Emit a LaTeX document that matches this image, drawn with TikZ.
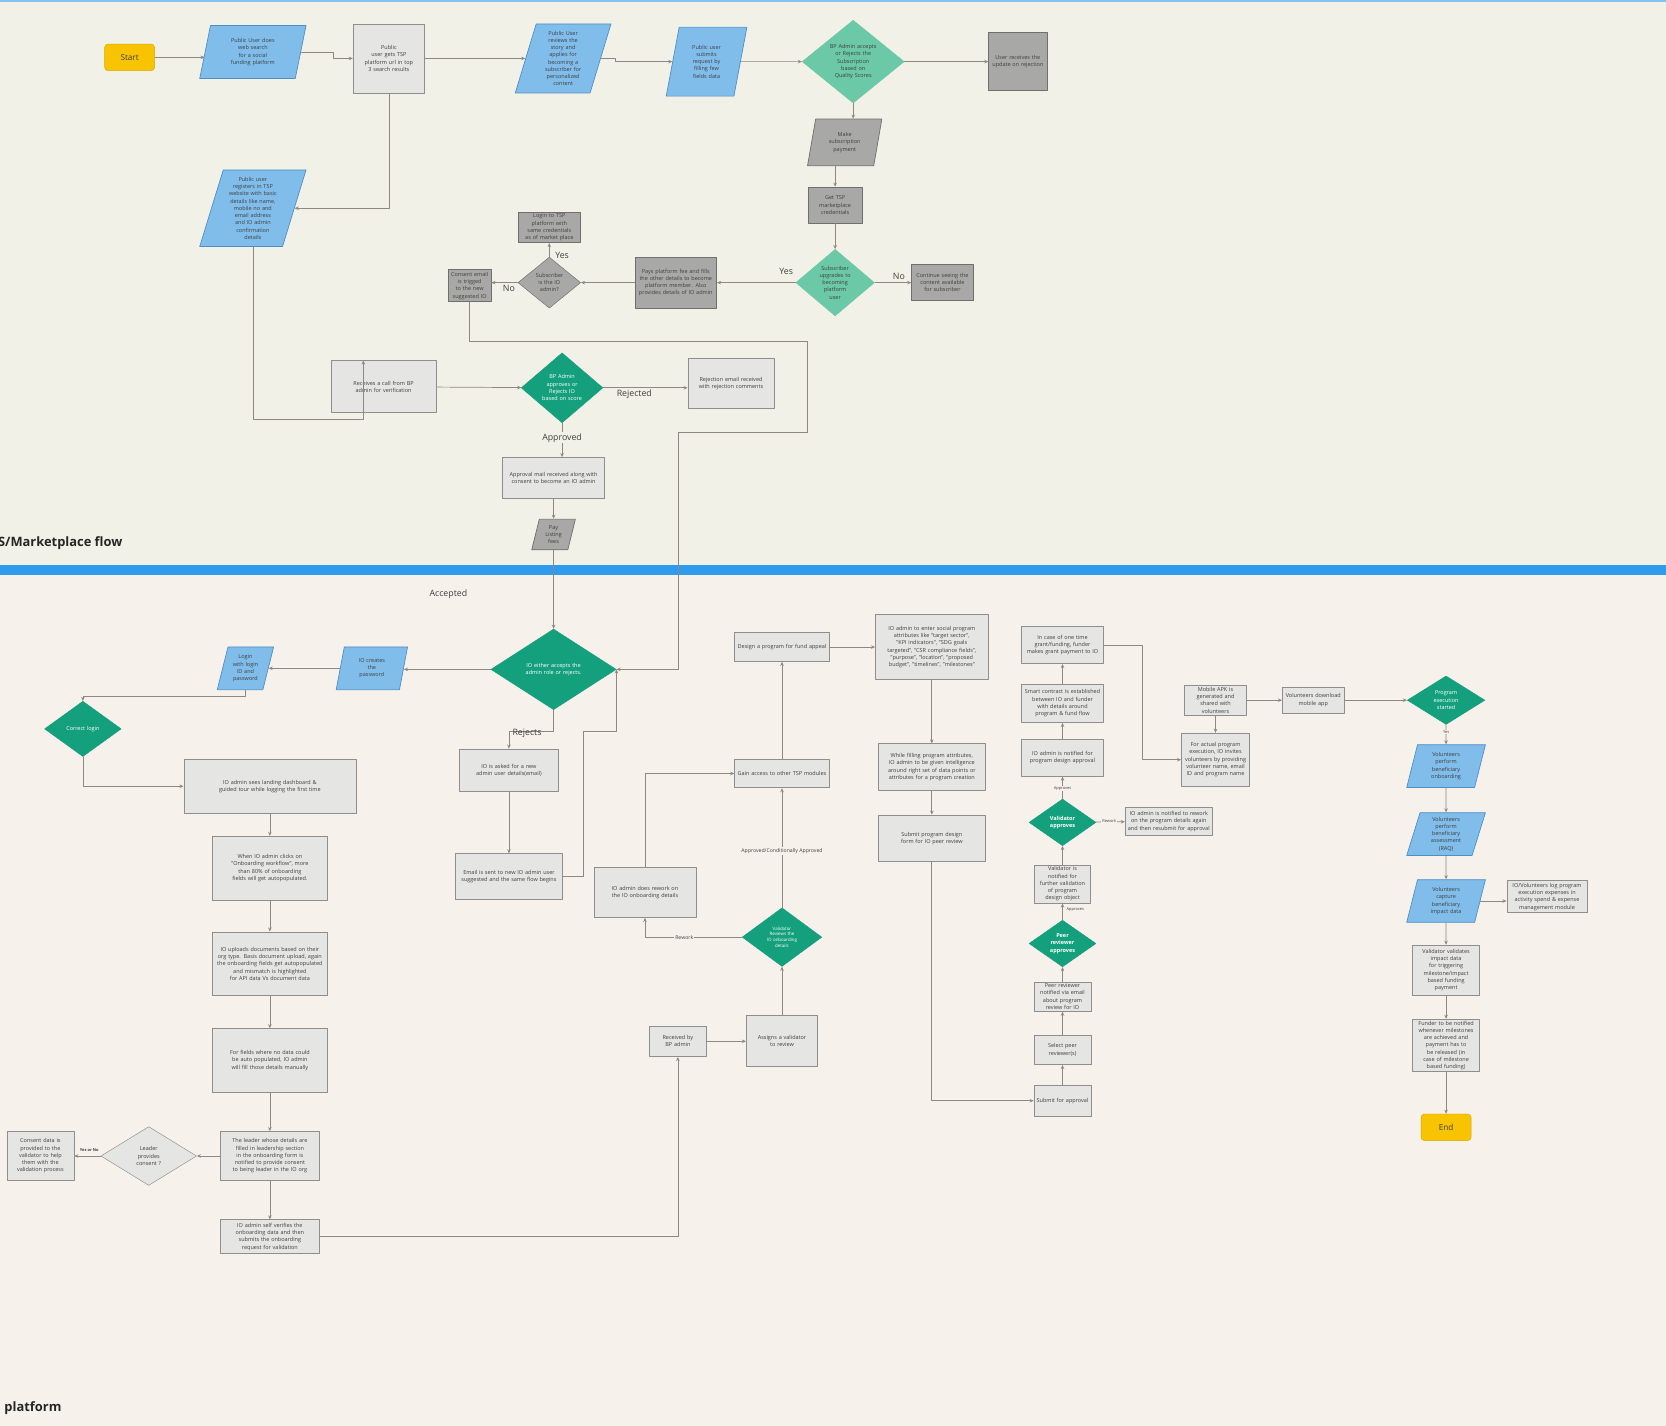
\documentclass[tikz,border=0pt]{standalone}
\usepackage{fontspec}
\setmainfont{Open Sans}
\usepackage{xcolor}
\usepackage{tikz}
\usetikzlibrary{arrows.meta,shapes.geometric}

\definecolor{topbg}{HTML}{F2F1E7}
\definecolor{botbg}{HTML}{F7F1EC}
\definecolor{bandblue}{HTML}{2F9BEC}
\definecolor{parablue}{HTML}{80BDEB}
\definecolor{paraedge}{HTML}{4F8FC6}
\definecolor{lightbox}{HTML}{E5E5E4}
\definecolor{boxedge}{HTML}{8E8E8E}
\definecolor{darkbox}{HTML}{A8A8A7}
\definecolor{darkedge}{HTML}{6F6F6F}
\definecolor{mintteal}{HTML}{6CC9A8}
\definecolor{deepteal}{HTML}{15A07D}
\definecolor{signyellow}{HTML}{F8C300}
\definecolor{yellowedge}{HTML}{D9A900}
\definecolor{lineclr}{HTML}{8D8882}
\definecolor{txtclr}{HTML}{3F3F3F}

\newcommand{\boxfont}{\fontsize{4.7}{6.2}\selectfont\hyphenpenalty=10000\exhyphenpenalty=10000\relax}
\newcommand{\tinyboxfont}{\fontsize{3.8}{4.8}\selectfont\hyphenpenalty=10000\relax}
\newcommand{\termfont}{\fontsize{7}{8}\selectfont}
\newcommand{\lblfont}{\fontsize{7.5}{9}\selectfont}
\newcommand{\smallfont}{\fontsize{4.4}{5.4}\selectfont}
\newcommand{\microfont}{\fontsize{3.4}{4}\selectfont}
\newcommand{\headfont}{\fontsize{11}{13}\selectfont\bfseries}

\begin{document}
\begin{tikzpicture}[x=0.031875cm,y=-0.031875cm,>=Stealth,line join=round,
  boxsize/.style 2 args={minimum width=#1cm,minimum height=#2cm},
  tw/.style={text width=#1cm},
  lbox/.style={rectangle,draw=boxedge,fill=lightbox,text=txtclr,font=\boxfont,align=center,inner sep=1.5pt,line width=0.6pt},
  gbox/.style={lbox,fill=darkbox,draw=darkedge},
  para/.style={trapezium,trapezium left angle=70,trapezium right angle=110,trapezium stretches body,draw=paraedge,fill=parablue,text=txtclr,font=\boxfont,align=center,inner sep=1pt,line width=0.6pt},
  gpara/.style={para,fill=darkbox,draw=darkedge},
  dec/.style={diamond,fill=deepteal,draw=deepteal,text=white,font=\boxfont,align=center,inner sep=0pt},
  mdec/.style={dec,fill=mintteal,draw=mintteal,text=txtclr},
  gdec/.style={dec,fill=darkbox,draw=darkedge,text=txtclr},
  ldec/.style={dec,fill=lightbox,draw=boxedge,text=txtclr},
  term/.style={rectangle,rounded corners=3pt,fill=signyellow,draw=yellowedge,font=\termfont,text=txtclr,minimum width=1.5cm,minimum height=0.8cm},
  flow/.style={draw=lineclr,line width=0.6pt,-{Stealth[length=3.5pt,width=3pt]}},
  lbl/.style={font=\lblfont,text=txtclr,inner sep=1pt},
  slbl/.style={font=\smallfont,text=txtclr,inner sep=1pt},
  mlbl/.style={font=\microfont,text=txtclr,inner sep=0.8pt}]
  \fill[topbg] (0,0) rectangle (1568,532);
  \fill[bandblue] (0,532) rectangle (1568,541);
  \fill[botbg] (0,541) rectangle (1568,1342);
  \fill[bandblue!60] (0,0) rectangle (1568,1.5);
  \useasboundingbox (0,0) rectangle (1568,1342);

  \node[term] (start) at (122,54) {Start};
  \node[para,boxsize={3.19}{1.59},tw=1.45] (websearch) at (238,49) {Public User does web search for a social funding platform};
  \node[lbox,boxsize={2.14}{2.07},tw=1.9] (tspurl) at (366,55) {Public\\ user gets TSP platform url in top 3 search results};
  \node[para,boxsize={2.87}{2.07},tw=1.25] (applysub) at (530,55) {Public User reviews the story and applies for becoming a subscriber for personalized content};
  \node[para,boxsize={2.42}{2.07},tw=1.05] (submitreq) at (665,58) {Public user submits request by filling few fields data};
  \node[mdec,boxsize={3.06}{2.23},tw=1.45] (bpsub) at (803,58) {BP Admin accepts or Rejects the Subscription based on Quality Scores};
  \node[gbox,boxsize={1.75}{1.75},tw=1.6] (rejupd) at (958,58) {User receives the update on rejection};
  \node[gpara,boxsize={2.23}{1.40},tw=1.0] (subpay) at (795,134) {Make subscription payment};
  \node[gbox,boxsize={1.63}{1.08},tw=1.1] (getcred) at (786,193) {Get TSP marketplace credentials};
  \node[mdec,boxsize={2.36}{1.82},tw=1.0] (upgrade) at (786,266) {Subscriber upgrades to becoming platform user};
  \node[gbox,boxsize={1.85}{1.08},tw=1.7] (contsee) at (887,266) {Continue seeing the content available for subscriber};
  \node[gbox,boxsize={2.45}{1.53},tw=2.3] (payfee) at (636,266) {Pays platform fee and fills the other details to become platform member. Also provides details of IO admin};
  \node[gdec,boxsize={1.88}{1.53},tw=0.8] (isadmin) at (517,266) {Subscriber is the IO admin?};
  \node[gbox,boxsize={1.85}{0.89},tw=1.7] (logintsp) at (517,214) {Login to TSP platform with same credentials as of market place};
  \node[gbox,boxsize={1.28}{0.96},tw=1.15] (consentmail) at (442,269) {Consent email is trigged to the new suggested IO};
  \node[para,boxsize={3.19}{2.30},tw=1.5] (register) at (238,196) {Public user registers in TSP website with basic details like name, mobile no and email address and IO admin confirmation details};
  \node[lbox,boxsize={3.16}{1.56},tw=2.9] (bpcall) at (361,364) {Receives a call from BP admin for verification};
  \node[dec,boxsize={2.45}{2.10},tw=1.3] (bpscore) at (529,365) {BP Admin approves or Rejects IO based on score};
  \node[lbox,boxsize={2.58}{1.50},tw=2.4] (rejmail) at (688,361) {Rejection email received with rejection comments};
  \node[lbox,boxsize={3.06}{1.24},tw=2.8] (apprmail) at (521,450) {Approval mail received along with consent to become an IO admin};
  \node[gpara,boxsize={1.31}{0.92},tw=0.6] (listfee) at (521,503) {Pay Listing fees};
  \coordinate (regbend) at (342,395);
  \coordinate (mailbend1) at (760,321);
  \coordinate (mailbend2) at (638,407);

  \node[dec,boxsize={3.76}{2.42},tw=2.0] (accrole) at (521,630) {IO either accepts the admin role or rejects.};
  \node[para,boxsize={2.14}{1.28},tw=1.0] (createpw) at (350,629) {IO creates the password};
  \node[para,boxsize={1.69}{1.28},tw=0.85] (loginid) at (231,629) {Login with login ID and password};
  \node[dec,boxsize={2.30}{1.66},tw=1.2] (corrlogin) at (78,686) {Correct login};
  \node[lbox,boxsize={5.16}{1.63},tw=4.9] (landing) at (254,740) {IO admin sees landing dashboard \& guided tour while logging the first time};
  \node[lbox,boxsize={2.96}{1.28},tw=2.6] (newadmin) at (479,725) {IO is asked for a new admin user details(email)};
  \node[lbox,boxsize={3.22}{1.37},tw=3.0] (mailnew) at (479,825) {Email is sent to new IO admin user suggested and the same flow begins};
  \node[lbox,boxsize={3.44}{1.91},tw=3.2] (autopop) at (254,817) {When IO admin clicks on "Onboarding workflow", more than 80\% of onboarding fields will get autopopulated.};
  \node[lbox,boxsize={3.44}{1.91},tw=3.2] (upload) at (254,907) {IO uploads documents based on their org type. Basis document upload, again the onboarding fields get autopopulated and mismatch is highlighted for API data Vs document data};
  \node[lbox,boxsize={3.44}{1.91},tw=3.2] (manual) at (254,998) {For fields where no data could be auto populated, IO admin will fill those details manually};
  \node[lbox,boxsize={2.96}{1.47},tw=2.6] (leader) at (254,1088) {The leader whose details are filled in leadership section in the onboarding form is notified to provide consent to being leader in the IO org};
  \node[ldec,boxsize={2.87}{1.50},tw=1.2] (leadcons) at (140,1088) {Leader provides consent ?};
  \node[lbox,boxsize={2.01}{1.47},tw=1.8] (consdata) at (38,1088) {Consent data is provided to the validator to help them with the validation process};
  \node[lbox,boxsize={2.96}{1.02},tw=2.7] (selfver) at (254,1164) {IO admin self verifies the onboarding data and then submits the onboarding request for validation};
  \node[lbox,boxsize={1.69}{0.92},tw=1.3] (recvbp) at (638,980) {Received by BP admin};
  \node[lbox,boxsize={2.14}{1.53},tw=1.8] (assignval) at (736,980) {Assigns a validator to review};
  \node[dec,boxsize={2.39}{1.50},tw=1.15,font=\tinyboxfont] (valrev) at (736,882) {Validator Reviews the IO onboarding details};
  \node[lbox,boxsize={3.06}{1.50},tw=2.6] (rework) at (607,840) {IO admin does rework on the IO onboarding details};
  \node[lbox,boxsize={2.84}{0.86},tw=2.7] (gainacc) at (736,728) {Gain access to other TSP modules};
  \node[lbox,boxsize={2.84}{0.86},tw=2.7] (design) at (736,609) {Design a program for fund appeal};
  \node[lbox,boxsize={3.38}{1.94},tw=3.2] (attrs) at (877,609) {IO admin to enter social program attributes like "target sector", "KPI indicators", "SDG goals targeted", "CSR compliance fields", "purpose", "location", "proposed budget", "timelines", "milestones"};
  \node[lbox,boxsize={3.22}{1.40},tw=3.0] (intel) at (877,722) {While filling program attributes, IO admin to be given intelligence around right set of data points or attributes for a program creation};
  \node[lbox,boxsize={3.22}{1.40},tw=2.6] (submitpeer) at (877,789) {Submit program design form for IO peer review};
  \node[lbox,boxsize={1.69}{0.92},tw=1.6] (submitappr) at (1000,1036) {Submit for approval};
  \node[lbox,boxsize={1.69}{0.89},tw=1.6] (selpeer) at (1000,988) {Select peer reviewer(s)};
  \node[lbox,boxsize={1.69}{0.83},tw=1.6] (peernote) at (1000,938) {Peer reviewer notified via email about program review for IO};
  \node[dec,boxsize={2.01}{1.40},tw=0.8,font=\boxfont\bfseries] (peerok) at (1000,888) {Peer reviewer approves};
  \node[lbox,boxsize={1.66}{0.89},tw=1.5] (valnote) at (1000,832) {Validator is notified for further validation of program design object};
  \node[dec,boxsize={2.01}{1.40},tw=0.8,font=\boxfont\bfseries] (valok) at (1000,774) {Validator approves};
  \node[lbox,boxsize={2.61}{0.83},tw=2.5] (reworknote) at (1100,773) {IO admin is notified to rework on the program details again and then resubmit for approval};
  \node[lbox,boxsize={2.45}{1.12},tw=2.3] (apprnote) at (1000,713) {IO admin is notified for program design approval};
  \node[lbox,boxsize={2.45}{1.15},tw=2.3] (smartc) at (1000,662) {Smart contract is established between IO and funder with details around program \& fund flow};
  \node[lbox,boxsize={2.45}{1.12},tw=2.2] (grantpay) at (1000,607) {In case of one time grant/funding, funder makes grant payment to IO};
  \node[lbox,boxsize={2.04}{1.59},tw=1.9] (invitevol) at (1144,715) {For actual program execution, IO invites volunteers by providing volunteer name, email ID and program name};
  \node[lbox,boxsize={1.85}{0.80},tw=1.7] (apk) at (1144,659) {Mobile APK is generated and shared with volunteers};
  \node[lbox,boxsize={1.85}{0.80},tw=1.7] (download) at (1236,659) {Volunteers download mobile app};
  \node[dec,boxsize={2.33}{1.28},tw=0.9] (execstart) at (1361,659) {Program execution started};
  \node[para,boxsize={2.36}{1.28},tw=1.0] (onboardben) at (1361,721) {Volunteers perform beneficiary onboarding};
  \node[para,boxsize={2.36}{1.28},tw=1.0] (assessben) at (1361,785) {Volunteers perform beneficiary assessment (RAQ)};
  \node[para,boxsize={2.36}{1.28},tw=1.0] (capture) at (1361,848) {Volunteers capture beneficiary impact data};
  \node[lbox,boxsize={2.39}{0.96},tw=2.3] (expenses) at (1456,844) {IO/Volunteers log program execution expenses in activity spend \& expense management module};
  \node[lbox,boxsize={2.01}{1.50},tw=1.8] (validimp) at (1361,913) {Validator validates impact data for triggering milestone/impact based funding payment};
  \node[lbox,boxsize={2.01}{1.53},tw=1.8] (fundernote) at (1361,984) {Funder to be notified whenever milestones are achieved and payment has to be released (in case of milestone based funding)};
  \node[term] (finish) at (1361,1061) {End};
  \coordinate (mailbend3) at (549,688);

  \draw[flow] (start) -- (start -| websearch.west);
  \draw[flow] (websearch.east) -- ++(30,0) |- (tspurl.west);
  \draw[flow] (tspurl) -- (applysub);
  \draw[flow] (applysub.east) -- ++(14,0) |- (submitreq.west);
  \draw[flow] (submitreq) -- (bpsub);
  \draw[flow] (bpsub) -- (rejupd);
  \draw[flow] (bpsub.south) -- (bpsub.south |- subpay.north);
  \draw[flow] (subpay.south -| getcred) -- (getcred);
  \draw[flow] (getcred) -- (upgrade);
  \draw[flow] (upgrade) -- (contsee);
  \draw[flow] (upgrade) -- (payfee);
  \draw[flow] (payfee) -- (isadmin);
  \draw[flow] (isadmin) -- (logintsp);
  \draw[flow] (isadmin.west) -- (isadmin.west -| consentmail.east);
  \draw[flow] (tspurl.south) |- (register.east);
  \draw[flow] (register.south) |- (regbend) -- (regbend |- bpcall.north);
  \draw[flow] (bpcall) -- (bpscore);
  \draw[flow] (bpscore.east) -- (bpscore.east -| rejmail.west);
  \draw[flow] (bpscore.south) -- (bpscore.south |- apprmail.north);
  \draw[flow] (apprmail) -- (listfee);
  \draw[flow] (listfee) -- (accrole);
  \draw[flow] (consentmail.south) |- (mailbend1) |- (mailbend2) |- (accrole.east);

  \draw[flow] (accrole.west) -- (accrole.west -| createpw.east);
  \draw[flow] (createpw.west) -- (createpw.west -| loginid.east);
  \draw[flow] (loginid.south) -- ++(0,6) -| (corrlogin.north);
  \draw[flow] (corrlogin.south) |- (landing.west);
  \draw[flow] (landing) -- (autopop);
  \draw[flow] (autopop) -- (upload);
  \draw[flow] (upload) -- (manual);
  \draw[flow] (manual) -- (leader);
  \draw[flow] (leader) -- (leadcons);
  \draw[flow] (leadcons) -- (consdata);
  \draw[flow] (leader) -- (selfver);
  \draw[flow] (accrole.south) -- ++(0,20) -| (newadmin.north);
  \draw[flow] (newadmin) -- (mailnew);
  \draw[flow] (mailnew.east) -| (mailbend3) -| (accrole.east);
  \draw[flow] (selfver.east) -| (recvbp.south);
  \draw[flow] (recvbp) -- (assignval);
  \draw[flow] (assignval) -- (valrev);
  \draw[flow] (valrev.west) -| (rework.south);
  \draw[flow] (valrev) -- (gainacc);
  \draw[flow] (rework.north) |- (gainacc.west);
  \draw[flow] (gainacc) -- (design);
  \draw[flow] (design) -- (attrs);
  \draw[flow] (attrs) -- (intel);
  \draw[flow] (intel) -- (submitpeer);
  \draw[flow] (submitpeer.south) |- (submitappr.west);
  \draw[flow] (submitappr) -- (selpeer);
  \draw[flow] (selpeer) -- (peernote);
  \draw[flow] (peernote) -- (peerok);
  \draw[flow] (peerok) -- (valnote);
  \draw[flow] (valnote) -- (valok);
  \draw[flow] (valok) -- (reworknote);
  \draw[flow] (valok) -- (apprnote);
  \draw[flow] (apprnote) -- (smartc);
  \draw[flow] (smartc) -- (grantpay);
  \draw[flow] (grantpay.east) -- ++(36,0) |- (invitevol.west);
  \draw[flow] (apk) -- (invitevol);
  \draw[flow] (apk) -- (download);
  \draw[flow] (download) -- (execstart);
  \draw[flow] (execstart) -- (onboardben);
  \draw[flow] (onboardben) -- (assessben);
  \draw[flow] (assessben) -- (capture);
  \draw[flow] (capture.east) -- (capture.east -| expenses.west);
  \draw[flow] (capture) -- (validimp);
  \draw[flow] (validimp) -- (fundernote);
  \draw[flow] (fundernote) -- (finish);

  \node[lbl] (yesup) at (740,255) {Yes};
  \node[lbl] (noup) at (846,260) {No};
  \node[lbl] (yesadmin) at (529,240) {Yes};
  \node[lbl] (noadmin) at (479,271) {No};
  \node[lbl] (rejected) at (597,371) {Rejected};
  \node[lbl,fill=topbg] (approved) at (529,412) {Approved};
  \node[lbl] (accepted) at (422,559) {Accepted};
  \node[lbl] (rejects) at (496,690) {Rejects};
  \node[slbl,fill=botbg] (condappr) at (736,801) {Approved/Conditionally Approved};
  \node[slbl,fill=botbg] (reworklbl) at (644,882) {Rework};
  \node[mlbl,font=\microfont\bfseries] (yesno) at (84,1082) {Yes or No};
  \node[mlbl] (approves1) at (1012,856) {Approves};
  \node[mlbl,fill=botbg] (approves2) at (1000,742) {Approves};
  \node[mlbl,fill=botbg] (reworklbl2) at (1044,773) {Rework};
  \node[mlbl,fill=botbg] (yesexec) at (1361,689) {Yes};
  \node[anchor=west,font=\headfont,text=black!85,inner sep=0pt] (mkttitle) at (-2,511) {S/Marketplace flow};
  \node[anchor=west,font=\headfont,text=black!85,inner sep=0pt] (plattitle) at (4,1325) {platform};
\end{tikzpicture}
\end{document}
